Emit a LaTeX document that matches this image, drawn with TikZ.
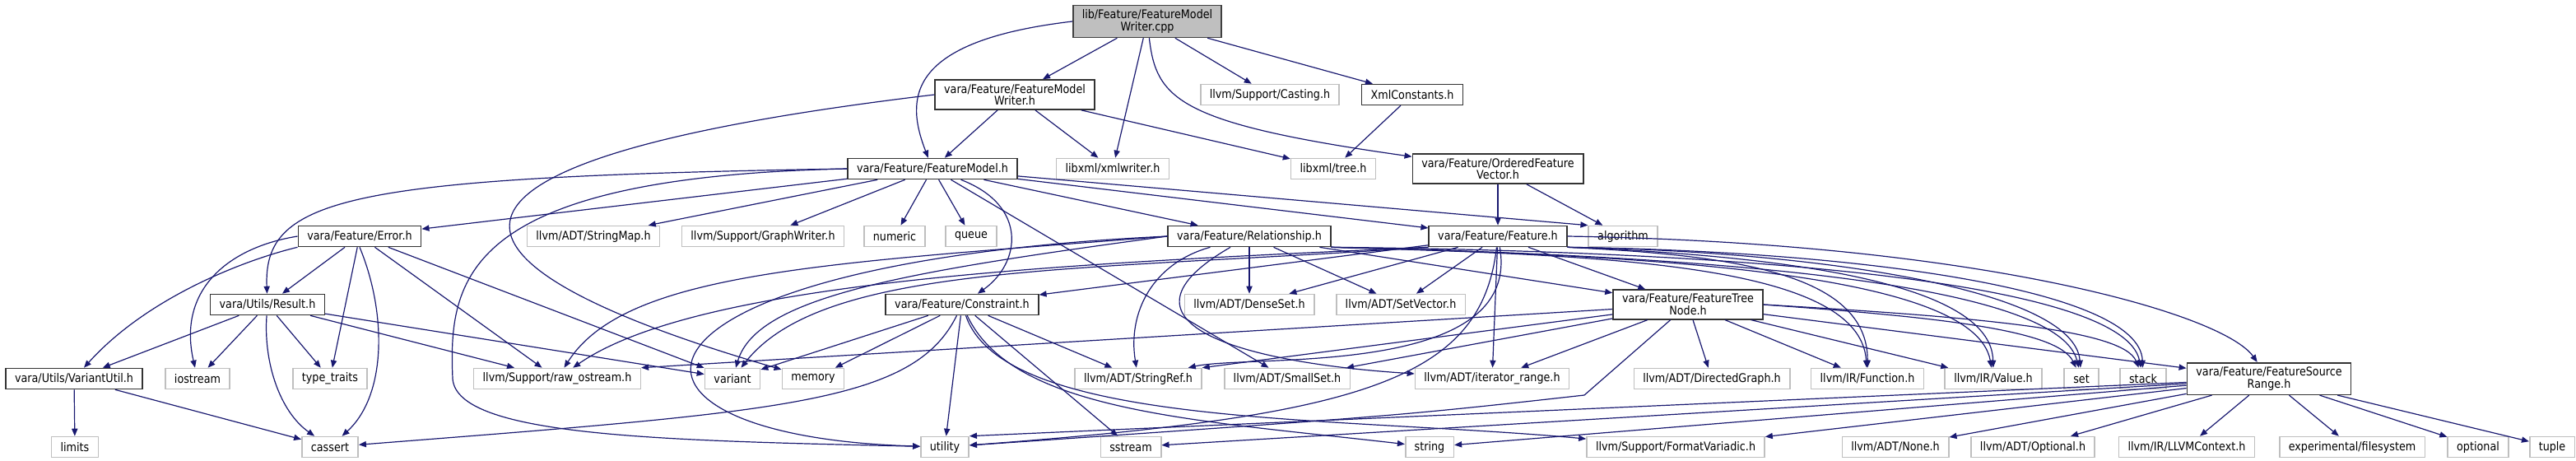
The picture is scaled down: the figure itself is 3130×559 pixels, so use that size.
\documentclass[tikz,border=0pt]{standalone}
\usepackage{fontspec}
\setmainfont[FakeStretch=0.88]{DejaVu Sans}
\usepackage{xcolor}
\usepackage{tikz}
\usetikzlibrary{arrows.meta}

\definecolor{depblue}{HTML}{191970}
\definecolor{rootgray}{HTML}{BFBFBF}

\begin{document}
\begin{tikzpicture}[
      x=0.5pt, y=-0.5pt,
      box/.style={rectangle, minimum height=12.5pt, inner xsep=5.5pt, inner ysep=2.5pt,
                  align=center, font=\fontsize{7.25pt}{7.4pt}\selectfont, line width=0.8pt},
      incl/.style={box, draw=black!80, fill=white},
      ext/.style={box, draw=black!25, fill=white},
      srcfile/.style={box, draw=black!75, fill=rootgray},
      dep/.style={-{Triangle[length=4.5pt,width=3.6pt]}, draw=depblue, line width=0.6pt}
  ]
  \useasboundingbox (0,0) rectangle (3130,559);

  %% ---- Row 1: source file ----
  \node[srcfile] (cpp) at (1394,26) {lib/Feature/FeatureModel\\Writer.cpp};

  %% ---- Row 2 ----
  \node[incl] (fmwriter) at (1233,115) {vara/Feature/FeatureModel\\Writer.h};
  \node[ext]  (casting)  at (1543,115) {llvm/Support/Casting.h};
  \node[incl] (xmlconst) at (1716,115) {XmlConstants.h};

  %% ---- Row 3 ----
  \node[incl] (fm)        at (1133,205) {vara/Feature/FeatureModel.h};
  \node[ext]  (xmlwriter) at (1352,205) {libxml/xmlwriter.h};
  \node[ext]  (xmltree)   at (1620,205) {libxml/tree.h};
  \node[incl] (ofv)       at (1820,205) {vara/Feature/OrderedFeature\\Vector.h};

  %% ---- Row 4 ----
  \node[incl] (error)       at (437,287)  {vara/Feature/Error.h};
  \node[ext]  (stringmap)   at (721,287)  {llvm/ADT/StringMap.h};
  \node[ext]  (graphwriter) at (927,287)  {llvm/Support/GraphWriter.h};
  \node[ext]  (numeric)     at (1087,287) {numeric};
  \node[ext]  (queue)       at (1180,287) {queue};
  \node[incl] (rel)         at (1518,287) {vara/Feature/Relationship.h};
  \node[incl] (feature)     at (1820,287) {vara/Feature/Feature.h};
  \node[ext]  (algorithm)   at (1972,287) {algorithm};

  %% ---- Row 5 ----
  \node[incl] (result)     at (325,370)  {vara/Utils/Result.h};
  \node[incl] (constraint) at (1169,370) {vara/Feature/Constraint.h};
  \node[ext]  (denseset)   at (1518,370) {llvm/ADT/DenseSet.h};
  \node[ext]  (setvector)  at (1702,370) {llvm/ADT/SetVector.h};
  \node[incl] (treenode)   at (2051,370) {vara/Feature/FeatureTree\\Node.h};

  %% ---- Row 6 ----
  \node[incl] (variantutil) at (90,460)   {vara/Utils/VariantUtil.h};
  \node[ext]  (iostream)    at (240,460)  {iostream};
  \node[ext]  (typetraits)  at (401,460)  {type\_traits};
  \node[ext]  (rawos)       at (677,460)  {llvm/Support/raw\_ostream.h};
  \node[ext]  (variant)     at (890,460)  {variant};
  \node[ext]  (memory)      at (988,460)  {memory};
  \node[ext]  (stringref)   at (1383,460) {llvm/ADT/StringRef.h};
  \node[ext]  (smallset)    at (1564,460) {llvm/ADT/SmallSet.h};
  \node[ext]  (itrange)     at (1813,460) {llvm/ADT/iterator\_range.h};
  \node[ext]  (dirgraph)    at (2080,460) {llvm/ADT/DirectedGraph.h};
  \node[ext]  (function)    at (2269,460) {llvm/IR/Function.h};
  \node[ext]  (value)       at (2422,460) {llvm/IR/Value.h};
  \node[ext]  (std_set)     at (2529,460) {set};
  \node[ext]  (std_stack)   at (2604,460) {stack};
  \node[incl] (srcrange)    at (2757,460) {vara/Feature/FeatureSource\\Range.h};

  %% ---- Row 7 ----
  \node[ext] (limits)       at (91,543)   {limits};
  \node[ext] (cassert)      at (401,543)  {cassert};
  \node[ext] (utility)      at (1148,543) {utility};
  \node[ext] (sstream)      at (1374,543) {sstream};
  \node[ext] (string)       at (1737,543) {string};
  \node[ext] (fmtvar)       at (2036,543) {llvm/Support/FormatVariadic.h};
  \node[ext] (none)         at (2303,543) {llvm/ADT/None.h};
  \node[ext] (optional)     at (2470,543) {llvm/ADT/Optional.h};
  \node[ext] (llvmctx)      at (2657,543) {llvm/IR/LLVMContext.h};
  \node[ext] (filesystem)   at (2858,543) {experimental/filesystem};
  \node[ext] (std_optional) at (3011,543) {optional};
  \node[ext] (tuple)        at (3101,543) {tuple};

  %% ---- Connections ----

  % FeatureModelWriter.cpp
  \draw[dep] (cpp.west) .. controls (1100,50) and (1100,120) .. (fm);
  \draw[dep] (cpp) -- (fmwriter);
  \draw[dep] (cpp) -- (xmlwriter);
  \draw[dep] (cpp) -- (casting);
  \draw[dep] (cpp) -- (xmlconst);
  \draw[dep] (cpp) .. controls (1405,120) and (1430,150) .. (ofv);

  % FeatureModelWriter.h
  \draw[dep] (fmwriter) -- (fm);
  \draw[dep] (fmwriter) -- (xmlwriter);
  \draw[dep] (fmwriter) -- (xmltree);
  \draw[dep] (fmwriter.west) .. controls (420,200) and (540,330) .. (memory);

  % XmlConstants.h, OrderedFeatureVector.h
  \draw[dep] (xmlconst) -- (xmltree);
  \draw[dep] (ofv) -- (feature);
  \draw[dep] (ofv) -- (algorithm);

  % FeatureModel.h
  \draw[dep] (fm.west) .. controls (420,215) and (320,240) .. (result);
  \draw[dep] (fm) -- (error);
  \draw[dep] (fm.west) .. controls (560,215) and (545,340) .. (550,460)
                       .. controls (555,530) and (800,535) .. (utility);
  \draw[dep] (fm) -- (stringmap);
  \draw[dep] (fm) -- (graphwriter);
  \draw[dep] (fm) -- (numeric);
  \draw[dep] (fm) -- (queue);
  \draw[dep] (fm) .. controls (1250,250) and (1240,320) .. (constraint);
  \draw[dep] (fm) -- (smallset);
  \draw[dep] (fm) -- (rel);
  \draw[dep] (fm) -- (feature);
  \draw[dep] (fm) -- (algorithm.north west);

  % Error.h
  \draw[dep] (error) -- (result);
  \draw[dep] (error.south west) .. controls (300,315) and (180,360) .. (variantutil);
  \draw[dep] (error.west) .. controls (280,300) and (215,350) .. (iostream);
  \draw[dep] (error) -- (typetraits);
  \draw[dep] (error.south) .. controls (470,380) and (470,480) .. (cassert);
  \draw[dep] (error) -- (rawos);
  \draw[dep] (error) -- (variant);

  % Result.h
  \draw[dep] (result) -- (variantutil);
  \draw[dep] (result) -- (iostream);
  \draw[dep] (result) -- (typetraits);
  \draw[dep] (result) .. controls (320,440) and (340,500) .. (cassert);
  \draw[dep] (result) -- (rawos);
  \draw[dep] (result) -- (variant);

  % VariantUtil.h
  \draw[dep] (variantutil) -- (limits);
  \draw[dep] (variantutil) -- (cassert);

  % Relationship.h
  \draw[dep] (rel) -- (denseset);
  \draw[dep] (rel) -- (setvector);
  \draw[dep] (rel) -- (treenode);
  \draw[dep] (rel) .. controls (1400,320) and (1370,380) .. (stringref);
  \draw[dep] (rel) .. controls (1340,390) and (1500,440) .. (itrange);
  \draw[dep] (rel.west) .. controls (1100,330) and (920,360) .. (variant);
  \draw[dep] (rel.west) .. controls (1000,320) and (760,330) .. (rawos);
  \draw[dep] (rel.west) .. controls (720,320) and (700,530) .. (utility);
  \draw[dep] (rel.south east) .. controls (1950,310) and (2260,320) .. (function);
  \draw[dep] (rel.south east) .. controls (2000,310) and (2400,330) .. (value);
  \draw[dep] (rel.south east) .. controls (2050,310) and (2500,340) .. (std_set);
  \draw[dep] (rel.south east) .. controls (2100,305) and (2580,340) .. (std_stack);

  % Feature.h
  \draw[dep] (feature) -- (constraint);
  \draw[dep] (feature) -- (denseset);
  \draw[dep] (feature) -- (setvector);
  \draw[dep] (feature) -- (treenode);
  \draw[dep] (feature) -- (itrange);
  \draw[dep] (feature) .. controls (1850,460) and (1520,430) .. (stringref);
  \draw[dep] (feature.south west) .. controls (1300,330) and (1000,320) .. (variant);
  \draw[dep] (feature.south west) .. controls (1300,320) and (850,340) .. (rawos);
  \draw[dep] (feature) .. controls (1800,460) and (1660,505) .. (utility);
  \draw[dep] (feature.south east) .. controls (2100,310) and (2270,330) .. (function);
  \draw[dep] (feature.south east) .. controls (2150,310) and (2420,340) .. (value);
  \draw[dep] (feature.south east) .. controls (2200,305) and (2520,350) .. (std_set);
  \draw[dep] (feature.south east) .. controls (2250,305) and (2600,350) .. (std_stack);
  \draw[dep] (feature.east) .. controls (2400,295) and (2700,380) .. (srcrange);

  % Constraint.h
  \draw[dep] (constraint) -- (variant);
  \draw[dep] (constraint) -- (memory);
  \draw[dep] (constraint) -- (utility);
  \draw[dep] (constraint) -- (sstream);
  \draw[dep] (constraint) -- (stringref);
  \draw[dep] (constraint) .. controls (1110,490) and (950,500) .. (cassert);
  \draw[dep] (constraint) .. controls (1230,500) and (1450,510) .. (string);
  \draw[dep] (constraint) .. controls (1220,520) and (1620,505) .. (fmtvar);

  % FeatureTreeNode.h
  \coordinate (tn_bend) at (1925,480);
  \draw[dep] (treenode) -- (itrange);
  \draw[dep] (treenode) -- (dirgraph);
  \draw[dep] (treenode) -- (function);
  \draw[dep] (treenode) -- (value);
  \draw[dep] (treenode.east) .. controls (2350,385) and (2500,400) .. (std_set);
  \draw[dep] (treenode.east) .. controls (2400,385) and (2580,400) .. (std_stack);
  \draw[dep] (treenode) -- (srcrange);
  \draw[dep] (treenode) -- (smallset);
  \draw[dep] (treenode) -- (stringref.north east);
  \draw[dep] (treenode) -- (rawos.north east);
  \draw[dep] (treenode) -- (tn_bend) .. controls (1700,505) .. (utility);

  % FeatureSourceRange.h
  \draw[dep] (srcrange) -- (utility.north east);
  \draw[dep] (srcrange) -- (sstream);
  \draw[dep] (srcrange) -- (string);
  \draw[dep] (srcrange) -- (fmtvar);
  \draw[dep] (srcrange) -- (none);
  \draw[dep] (srcrange) -- (optional);
  \draw[dep] (srcrange) -- (llvmctx);
  \draw[dep] (srcrange) -- (filesystem);
  \draw[dep] (srcrange) -- (std_optional);
  \draw[dep] (srcrange) -- (tuple);

\end{tikzpicture}
\end{document}
